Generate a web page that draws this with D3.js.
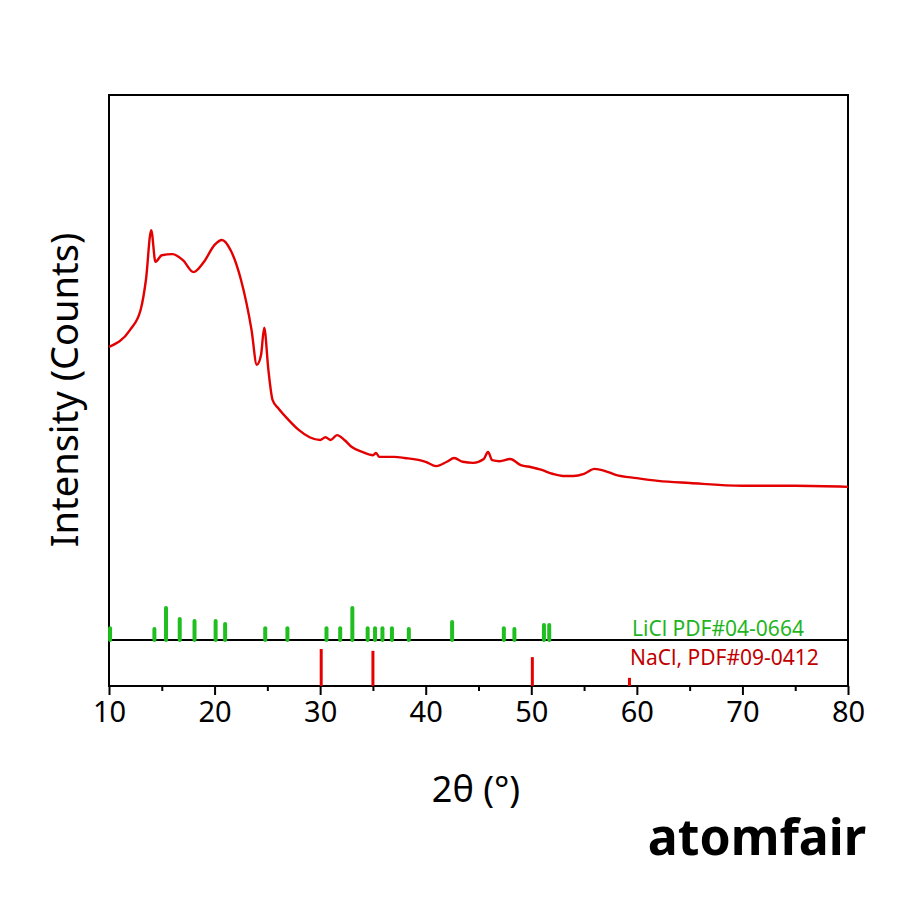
<!DOCTYPE html><html><head><meta charset="utf-8"><script src="https://cdn.jsdelivr.net/npm/d3@7"></script>
<style>body{margin:0;background:#fff}</style></head><body><svg id="c" width="900" height="900"></svg><script>
const twoTheta=[10,12,13,13.5,14,14.4,15,16,17,18,19,20,20.7,21.5,22.5,23.5,24,24.4,24.7,25.1,25.5,26,27,28,29,30,30.5,31,31.6,32.3,33,34,35,35.3,35.6,37,38,40,41,42,42.7,43.5,44.5,45.5,45.9,46.3,47,48,49,50,51,52,53,54,55,56,57,58,60,62,65,70,75,80];
const counts=[538,569,606,661,752,694,706,708,697,675,694,725,734,716,661,569,505,523,573,495,440,426,404,385,372,367,372,367,376,367,354,345,339,343,336,336,334,327,319,327,334,327,325,332,345,330,328,332,321,317,312,305,301,301,305,314,310,303,297,292,288,283,283,281];
const liclPos=[10.1,14.3,15.4,16.7,18.1,20.1,21.0,24.8,26.9,30.6,31.9,33.05,34.5,35.2,35.9,36.8,38.4,42.5,47.4,48.4,51.2,51.7];
const liclInt=[37,34,100,66,59,59,50,37,37,37,37,100,37,37,37,37,34,56,37,34,47,47];
const naclPos=[30.1,35.0,50.1,59.3];
const naclInt=[100,95,78,22];
const xTicks=[10,20,30,40,50,60,70,80];
const svg=d3.select("#c");
const L=109,R=848,T=95,B=686,D=640;
const x=d3.scaleLinear().domain([10,80]).range([L,R]);
const y=d3.scaleLinear().domain([0,1000]).range([D,T]);
const gl=d3.scaleLinear().domain([0,100]).range([D,D-32]);
const rl=d3.scaleLinear().domain([0,100]).range([B,B-37]);
svg.append("rect").attr("x",L).attr("y",T).attr("width",R-L).attr("height",B-T).attr("fill","none").attr("stroke","#000").attr("stroke-width",2);
svg.append("line").attr("x1",L).attr("x2",R).attr("y1",D).attr("y2",D).attr("stroke","#000").attr("stroke-width",2);
svg.append("g").selectAll("line").data(liclPos).join("line").attr("x1",d=>x(d)).attr("x2",d=>x(d)).attr("y1",D).attr("y2",(d,i)=>gl(liclInt[i])).attr("stroke","#1fbf1f").attr("stroke-width",4).attr("stroke-linecap","round");
svg.append("g").selectAll("line").data(naclPos).join("line").attr("x1",d=>x(d)).attr("x2",d=>x(d)).attr("y1",B).attr("y2",(d,i)=>rl(naclInt[i])).attr("stroke","#e60000").attr("stroke-width",3);
svg.append("path").datum(twoTheta.map((d,i)=>[d,counts[i]])).attr("d",d3.line().x(d=>x(d[0])).y(d=>y(d[1])).curve(d3.curveMonotoneX)).attr("fill","none").attr("stroke","#e30000").attr("stroke-width",2.4);
const ax=svg.append("g").attr("transform",`translate(0,${B})`).call(d3.axisBottom(x).tickValues(xTicks).tickFormat(d3.format("d")).tickSize(9).tickPadding(6));
ax.select(".domain").remove();
ax.selectAll("line").attr("stroke-width",2);
ax.selectAll("text").attr("font-family","Noto Sans").attr("font-size",29).attr("fill","#000");
svg.append("g").attr("transform",`translate(0,${B})`).call(d3.axisBottom(x).tickValues(d3.range(15,80,10)).tickFormat("").tickSize(5)).call(g=>{g.select(".domain").remove();g.selectAll("line").attr("stroke-width",2);});
svg.append("text").attr("x",632).attr("y",636).attr("font-family","Noto Sans").attr("font-size",21).attr("fill","#1fb51f").text("LiCl PDF#04-0664");
svg.append("text").attr("x",630).attr("y",665).attr("font-family","Noto Sans").attr("font-size",21).attr("fill","#c00000").text("NaCl, PDF#09-0412");
svg.append("text").attr("x",476).attr("y",802).attr("text-anchor","middle").attr("font-family","Noto Sans").attr("font-size",36).text("2θ (°)");
svg.append("text").attr("transform","translate(78,390) rotate(-90)").attr("text-anchor","middle").attr("font-family","Noto Sans").attr("font-size",38).text("Intensity (Counts)");
svg.append("text").attr("x",866).attr("y",855).attr("text-anchor","end").attr("font-family","Noto Sans").attr("font-weight","bold").attr("font-size",50).text("atomfair");
</script></body></html>
